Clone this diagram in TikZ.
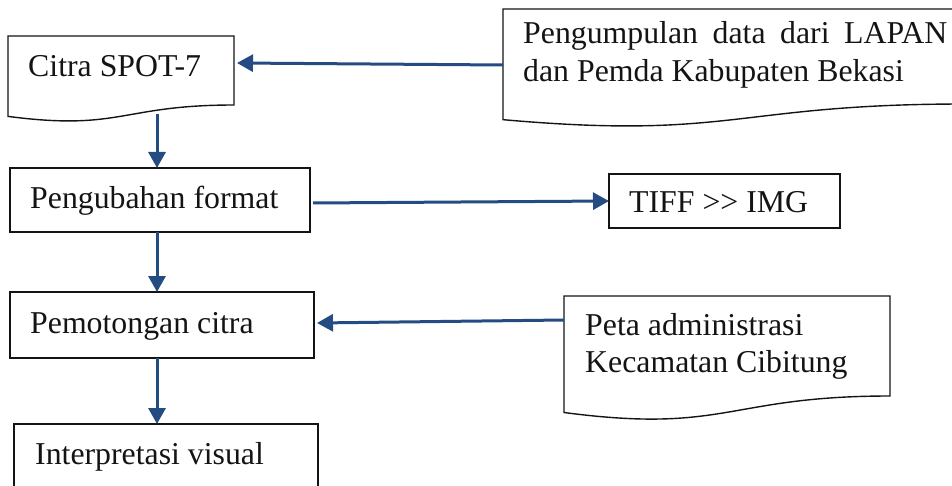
\documentclass[tikz,border=0pt]{standalone}
\usepackage{fontspec}
\setmainfont{Liberation Serif}
\usepackage{tikz}
\usetikzlibrary{positioning}
\usetikzlibrary{calc}
\usetikzlibrary{arrows.meta}
\definecolor{cb}{RGB}{20,20,20}
\definecolor{ca}{RGB}{37,76,130}
\tikzstyle{box}=[draw=cb, line width=1.4pt, inner sep=0, outer sep=0, anchor=north west]
\tikzstyle{doc}=[inner sep=0, outer sep=0, anchor=north west]
\tikzstyle{txt}=[cb, inner sep=0, anchor=base west, font=\fontsize{31.8pt}{37.5pt}\selectfont]
\tikzstyle{arrow}=[ca, line width=3pt, -{Triangle[length=16pt,width=17pt]}]
\newcommand{\docline}[1]{\draw[cb, line width=1.4pt] (#1.north west) -- (#1.north east) -- (#1.south east)
  .. controls (#1.south) and ($(#1.south)!-0.38!(#1.north)$) .. ($(#1.south west)!-0.165!(#1.north west)$) -- cycle;}

\begin{document}
\begin{tikzpicture}[x=1pt, y=-1pt]
  \useasboundingbox (0,0) rectangle (952,486);
  \clip (0,0) rectangle (952,486);

  % left column
  \node [doc, minimum width=226pt, minimum height=69pt] (spot) at (8,36) {};
  \docline{spot}
  \node [txt] (spottxt) at ([shift={(20,41)}]spot.north west) {Citra SPOT-7};

  \node [box, minimum width=300pt, minimum height=64pt] (fmt) at (10,168) {};
  \node [txt] (fmttxt) at ([shift={(20,41)}]fmt.north west) {Pengubahan format};

  \node [box, minimum width=304pt, minimum height=66pt] (crop) at (10,292) {};
  \node [txt] (croptxt) at ([shift={(20,41)}]crop.north west) {Pemotongan citra};

  \node [box, minimum width=304pt, minimum height=90pt] (interp) at (14,424) {};
  \node [txt] (interptxt) at ([shift={(21,40)}]interp.north west) {Interpretasi visual};

  % right column
  \node [doc, minimum width=462pt, minimum height=95pt] (lapan) at (503,9) {};
  \docline{lapan}
  \node [txt, text width=424pt, align=justify] (lapantxt) at ([shift={(20,35)}]lapan.north west)
    {Pengumpulan data dari LAPAN dan Pemda Kabupaten Bekasi};

  \node [box, minimum width=231pt, minimum height=54pt] (tiff) at (609,174) {};
  \node [txt] (tifftxt) at ([shift={(20,39)}]tiff.north west) {TIFF >{}> IMG};

  \node [doc, minimum width=326pt, minimum height=100pt] (peta) at (564,296) {};
  \docline{peta}
  \node [txt, text width=300pt, align=flush left] (petatxt) at ([shift={(21,39)}]peta.north west)
    {Peta administrasi\\Kecamatan Cibitung};

  % connectors
  \coordinate (col) at (157,0);
  \draw [arrow] ($(col |- spot.south)+(0,9)$) -- (col |- fmt.north);
  \draw [arrow] (col |- fmt.south) -- (col |- crop.north);
  \draw [arrow] (col |- crop.south) -- (col |- interp.north);
  \draw [arrow] ([yshift=-8.5pt]lapan.west) -- ([xshift=3pt,yshift=7.5pt]spot.east);
  \draw [arrow] ([xshift=3pt,yshift=-3pt]fmt.east) -- (tiff.west);
  \draw [arrow] ([yshift=26pt]peta.west) -- ([xshift=3pt,yshift=2pt]crop.east);
\end{tikzpicture}
\end{document}
